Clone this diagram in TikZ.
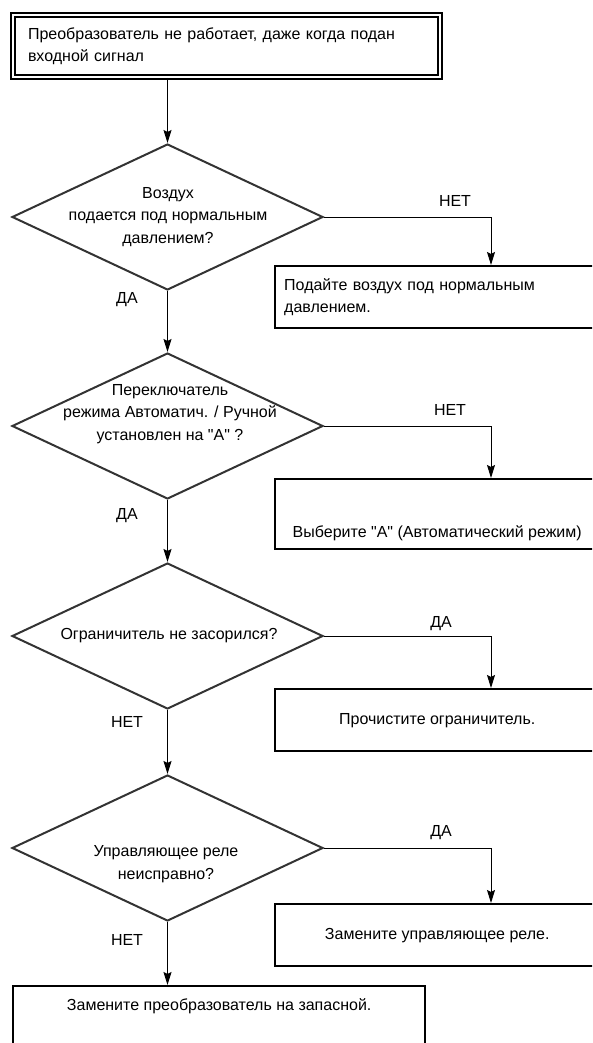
\documentclass[tikz,border=0pt]{standalone}
\usepackage{fontspec}
\setmainfont{Liberation Sans}[Ligatures=TeXOff]
\usetikzlibrary{shapes.geometric,arrows.meta}
\begin{document}
\begin{tikzpicture}[x=1pt,y=-1pt,
  font=\fontsize{16}{22.5}\selectfont,
  decision/.style={diamond, draw=black!80, line width=2pt, minimum width=311pt,
    minimum height=146pt, inner sep=0pt},
  question/.style={inner sep=0pt, align=center},
  action/.style={rectangle, draw=black, line width=2.4pt, minimum width=324pt,
    minimum height=62pt, inner sep=0pt, anchor=north west},
  flow/.style={-{Stealth[length=13pt,width=8pt,inset=2pt]}, line width=1pt},
  answer/.style={inner sep=0pt}]
\clip (0,0) rectangle (592,1043);

% start of the procedure
\node[draw, double, line width=1.6pt, double distance=2.4pt, minimum width=427pt,
  minimum height=62pt, text width=397pt, align=left, inner sep=0pt]
  (start) at (226.5,46) {Преобразователь не работает, даже когда подан\\входной сигнал};

% checks
\node[decision] (d1) at (167.5,217) {};
\node[decision] (d2) at (167.5,426) {};
\node[decision] (d3) at (167.5,636) {};
\node[decision] (d4) at (167.5,848) {};
\node[question] (q1) at (168,217) {Воздух\\подается под нормальным\\давлением?};
\node[question] (q2) at (170,414) {Переключатель\\режима Автоматич. / Ручной\\установлен на "А" ?};
\node[question] (q3) at (169,636) {Ограничитель не засорился?};
\node[question] (q4) at (166,864) {Управляющее реле\\неисправно?};

% remedies
\node[action, text width=306pt, align=left] (b1) at (274,265) {Подайте воздух под нормальным\\давлением.};
\node[action, minimum height=0pt, text height=58pt, text depth=12pt]
  (b2) at (274,478) {Выберите "А" (Автоматический режим)};
\node[action] (b3) at (274,688) {Прочистите ограничитель.};
\node[action] (b4) at (274,903) {Замените управляющее реле.};
\node[action, minimum width=412pt, minimum height=0pt, text height=24pt, text depth=40pt]
  (final) at (12,985) {Замените преобразователь на запасной.};

% branch column on the right
\coordinate (jx) at (491,0);

% main line
\draw[flow] (start.south -| d1.north) -- (d1.north);
\draw[flow] (d1.south) -- (d2.north);
\draw[flow] (d2.south) -- (d3.north);
\draw[flow] (d3.south) -- (d4.north);
\draw[flow] (d4.south) -- (final.north -| d4.south);

% side branches
\draw[flow] (d1.east) -| (b1.north -| jx);
\draw[flow] (d2.east) -| (b2.north -| jx);
\draw[flow] (d3.east) -| (b3.north -| jx);
\draw[flow] (d4.east) -| (b4.north -| jx);

% answers
\node[answer] (a1) at (455,201) {НЕТ};
\node[answer] (a2) at (450,410) {НЕТ};
\node[answer] (a3) at (441,624) {ДА};
\node[answer] (a4) at (441,833) {ДА};
\node[answer] (a5) at (127,300) {ДА};
\node[answer] (a6) at (127,516) {ДА};
\node[answer] (a7) at (127,722) {НЕТ};
\node[answer] (a8) at (127,940) {НЕТ};
\end{tikzpicture}
\end{document}
